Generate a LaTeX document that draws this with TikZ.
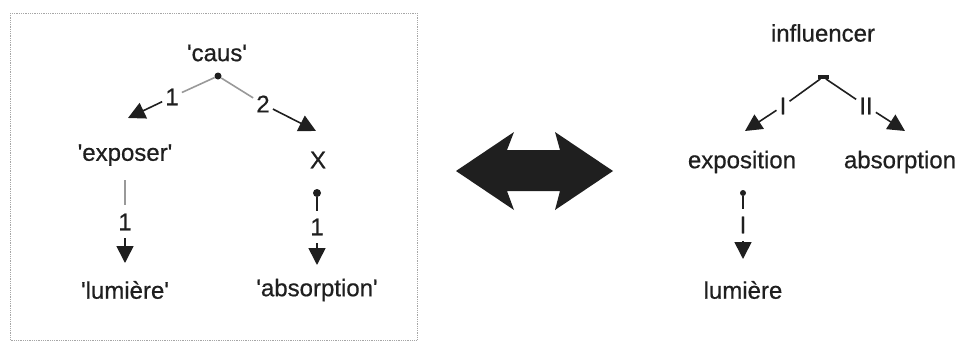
\documentclass[tikz,border=0pt]{standalone}
\usepackage{fontspec}
\setmainfont{Liberation Sans}
\newfontfamily\labfont{Liberation Sans}[FakeBold=0.6]
\usetikzlibrary{arrows.meta}
\newcommand\sqt[1]{\textquotesingle#1\textquotesingle}
\begin{document}
\begin{tikzpicture}[x=1pt,y=-1pt,
  lbl/.style={font=\labfont\fontsize{24}{28}\selectfont, text=black!88, inner sep=1pt},
  num/.style={font=\labfont\fontsize{24}{28}\selectfont, text=black!88, inner xsep=3pt, inner ysep=8pt},
  link/.style={line width=1.6pt, black!88},
  faint/.style={line width=1.6pt, black!40},
  arr/.style={link, -{Triangle[length=17pt,width=17pt]}},
  pin/.style={circle, fill=black!88, inner sep=0pt, minimum size=#1},
]
\useasboundingbox (0,0) rectangle (964,343);

% framed semantic network
\draw[black!35, line width=0.8pt, densely dotted] (10,13) rectangle (417,340);

\node[lbl] (caus) at (217,53) {\sqt{caus}};
\node[pin=7pt] (cd) at (218,76) {};
\node[num] (n1) at (172,97) {1};
\node[num] (n2) at (263,104) {2};
\coordinate (t1) at (128,118);
\coordinate (t2) at (316,131);
\draw[faint] (cd) -- (n1);
\draw[faint] (cd) -- (n2);
\draw[arr] (n1) -- (t1);
\draw[arr] (n2) -- (t2);

\node[lbl] (expo) at (125,155) {\sqt{exposer}};
\node[lbl] (X) at (318,160) {X};

\coordinate (ea) at (125,180);
\coordinate (eb) at (125,205);
\node[num] (n3) at (125,222) {1};
\coordinate (t3) at (125,263);
\draw[faint] (ea) -- (eb);
\draw[arr] (n3) -- (t3);

\node[pin=8pt] (xd) at (317,193) {};
\node[num] (n4) at (317,227) {1};
\coordinate (t4) at (317,265);
\draw[link] (xd) -- (n4);
\draw[arr] (n4) -- (t4);

\node[lbl] (lum) at (125,290) {\sqt{lumière}};
\node[lbl] (abs) at (317,290) {\sqt{absorption}};

% double-headed correspondence arrow
\fill[black!88] (456,171) -- (514,132) -- (507,150) -- (560,150) -- (555,132)
  -- (613,171) -- (555,210) -- (560,191) -- (507,191) -- (514,210) -- cycle;

% lexical network
\node[lbl] (infl) at (823,33) {influencer};
\node[fill=black!88, minimum width=11pt, minimum height=3.5pt, inner sep=0pt] (bar) at (823,77) {};
\node[num] (r1) at (783,106) {I};
\node[num] (r2) at (866,106) {II};
\coordinate (u1) at (745,131);
\coordinate (u2) at (905,131);
\draw[link] (bar) -- (r1);
\draw[link] (bar) -- (r2);
\draw[arr] (r1) -- (u1);
\draw[arr] (r2) -- (u2);

\node[lbl] (expn) at (742,162) {exposition};
\node[lbl] (absn) at (900,162) {absorption};

\node[pin=6pt] (ed) at (743,193) {};
\node[num] (r3) at (743,225) {I};
\coordinate (u3) at (743,259);
\draw[link] (ed) -- (r3);
\draw[arr] (r3) -- (u3);

\node[lbl] (lumn) at (743,290) {lumière};
\end{tikzpicture}
\end{document}
